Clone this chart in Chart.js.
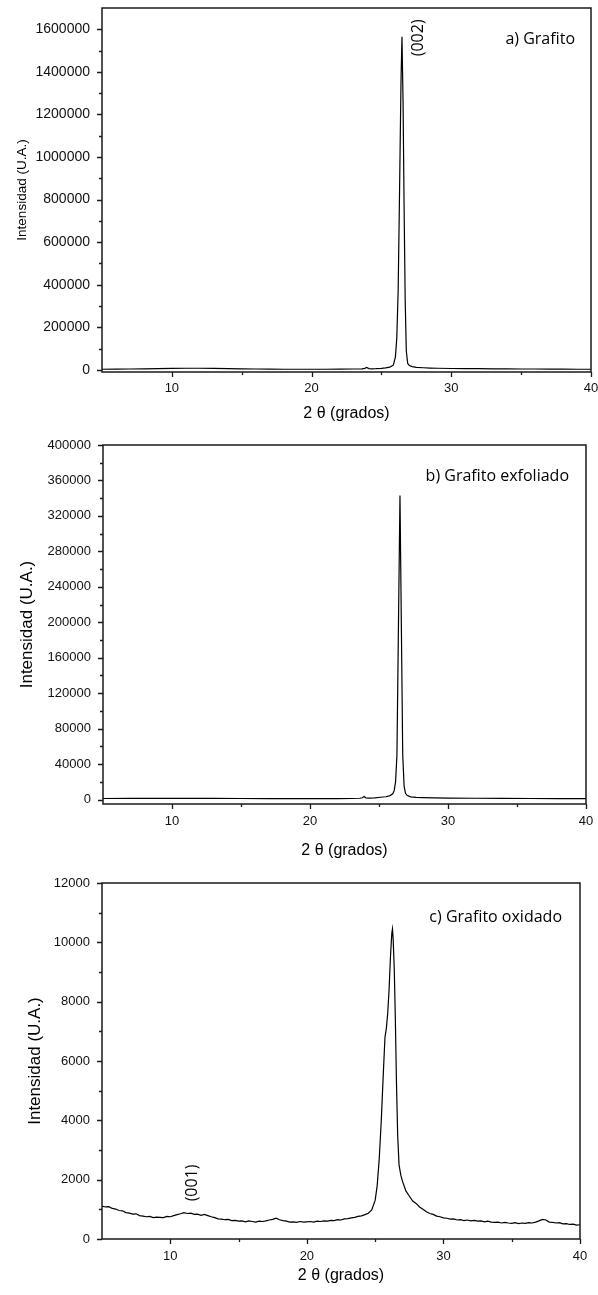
<!DOCTYPE html>
<html><head><meta charset="utf-8">
<script src="https://cdn.jsdelivr.net/npm/chart.js@4.4.1/dist/chart.umd.min.js"></script>
<style>
html,body{margin:0;padding:0;background:#fff;}
#wrap{position:relative;width:598px;height:1295px;overflow:hidden;}
canvas{position:absolute;left:0;}
</style></head><body>
<div id="wrap">
<canvas id="cA" width="598" height="430" style="top:0;width:598px;height:430px"></canvas>
<canvas id="cB" width="598" height="435" style="top:430px;width:598px;height:435px"></canvas>
<canvas id="cC" width="598" height="430" style="top:865px;width:598px;height:430px"></canvas>
</div>
<script>
// ---- shared axis ticks ----
const xTicks = [10, 20, 30, 40];
const xMinor = [15, 25, 35];

// ---- panel a) Grafito ----
const xA = [5,6,7,8,9,10,11,12,13,14,15,16,17,18,19,20,21,22,23,23.6,23.8,23.95,24.1,24.3,24.6,25,25.3,25.6,25.85,26.0,26.1,26.2,26.3,26.4,26.47,26.55,26.62,26.7,26.78,26.88,27.0,27.2,27.5,28,28.5,29,30,31,32,33,34,35,36,37,38,39,40];
const yA = [3000,3500,4000,5000,6000,7000,7500,7500,7000,6000,5000,4000,3500,3000,3000,3000,3000,3500,4000,5000,7000,11000,6000,5000,5500,7000,9000,13000,22000,60000,150000,380000,850000,1350000,1565000,1250000,780000,330000,90000,30000,20000,15000,12000,10000,8500,7500,6500,6000,5500,5000,4500,4000,4000,3500,3500,3000,3000];
const yTicksA = [0,200000,400000,600000,800000,1000000,1200000,1400000,1600000];
const yMinorA = [100000,300000,500000,700000,900000,1100000,1300000,1500000];

// ---- panel b) Grafito exfoliado ----
const xB = [5,7,9,11,13,15,17,19,21,22,23,23.6,23.8,23.93,24.05,24.3,24.7,25.1,25.5,25.8,26.0,26.1,26.2,26.3,26.52,26.72,26.82,26.92,27.05,27.3,27.7,28.2,29,30,32,34,36,38,40];
const yB = [1200,1300,1400,1400,1300,1200,1100,1000,1000,1100,1200,1500,2000,3500,1800,1600,2000,2600,3200,4500,6500,10000,20000,50000,343000,50000,15000,7000,4500,3000,2500,2200,1900,1700,1500,1300,1200,1100,1000];
const yTicksB = [0,40000,80000,120000,160000,200000,240000,280000,320000,360000,400000];
const yMinorB = [20000,60000,100000,140000,180000,220000,260000,300000,340000,380000];

// ---- panel c) Grafito oxidado ----
const xC = [5,5.25,5.5,5.75,6,6.25,6.5,6.75,7,7.25,7.5,7.75,8,8.25,8.5,8.75,9,9.25,9.5,9.75,10,10.25,10.5,10.75,11,11.25,11.5,11.75,12,12.25,12.5,12.75,13,13.25,13.5,13.75,14,14.25,14.5,14.75,15,15.25,15.5,15.75,16,16.25,16.5,16.75,17,17.25,17.5,17.75,18,18.25,18.5,18.75,19,19.25,19.5,19.75,20,20.25,20.5,20.75,21,21.25,21.5,21.75,22,22.25,22.5,22.75,23,23.25,23.5,23.75,24,24.25,24.5,24.75,25,25.15,25.3,25.45,25.6,25.72,25.82,25.92,26.02,26.12,26.22,26.27,26.32,26.4,26.48,26.56,26.65,26.75,26.88,27,27.25,27.5,27.75,28,28.25,28.5,28.75,29,29.25,29.5,29.75,30,30.25,30.5,30.75,31,31.25,31.5,31.75,32,32.25,32.5,32.75,33,33.25,33.5,33.75,34,34.25,34.5,34.75,35,35.25,35.5,35.75,36,36.25,36.5,36.75,37,37.25,37.5,37.75,38,38.25,38.5,38.75,39,39.25,39.5,39.75,40];
const yC = [1110,1080,1090,1030,1010,960,950,890,870,840,850,790,770,750,760,720,740,730,720,760,750,790,820,850,890,860,870,830,840,800,830,790,750,720,680,670,650,660,620,630,600,610,580,610,590,570,600,590,610,640,660,700,650,620,600,570,580,560,590,570,580,590,570,600,590,610,600,630,620,650,640,680,690,710,730,760,780,820,870,980,1300,1800,2700,4000,5600,6800,7100,7600,8400,9500,10300,10450,10100,9100,7400,5300,3500,2500,2150,1950,1620,1450,1280,1200,1080,1000,920,860,830,770,750,710,700,670,680,640,650,620,640,610,630,600,610,580,600,570,560,570,540,560,540,530,550,520,540,530,550,540,570,610,660,640,570,560,540,550,510,520,490,500,470,480];
const yTicksC = [0,2000,4000,6000,8000,10000,12000];
const yMinorC = [1000,3000,5000,7000,9000,11000];

const NUM_FONT = '"Liberation Sans", Arial, sans-serif';
const NOTE_FONT = '"Open Sans", "Noto Sans", sans-serif';

function zeroPad(s) { s.paddingLeft = 0; s.paddingRight = 0; s.paddingTop = 0; s.paddingBottom = 0; }

function framePlugin(cfg) {
  return {
    id: 'frame_' + cfg.id,
    afterDraw(chart) {
      const {ctx, chartArea: a, scales: {x, y}} = chart;
      ctx.save();
      ctx.strokeStyle = '#1a1a1a';
      ctx.lineWidth = 1.5;
      ctx.strokeRect(a.left, a.top, a.right - a.left, a.bottom - a.top);
      ctx.lineWidth = 1.3;
      ctx.beginPath();
      cfg.yMajor.forEach(v => { const p = Math.round(y.getPixelForValue(v)) + 0.5; ctx.moveTo(a.left - 5, p); ctx.lineTo(a.left, p); });
      cfg.yMinor.forEach(v => { const p = Math.round(y.getPixelForValue(v)) + 0.5; ctx.moveTo(a.left - 3, p); ctx.lineTo(a.left, p); });
      xTicks.forEach(v => { const p = Math.round(x.getPixelForValue(v)) + 0.5; ctx.moveTo(p, a.bottom); ctx.lineTo(p, a.bottom + 5); });
      xMinor.forEach(v => { const p = Math.round(x.getPixelForValue(v)) + 0.5; ctx.moveTo(p, a.bottom); ctx.lineTo(p, a.bottom + 3); });
      ctx.stroke();
      ctx.fillStyle = '#000';
      ctx.font = '16px ' + NOTE_FONT;
      ctx.textAlign = 'right';
      ctx.textBaseline = 'middle';
      ctx.fillText(cfg.corner, a.right - cfg.cornerDx, a.top + cfg.cornerDy);
      if (cfg.peak) {
        ctx.save();
        ctx.translate(x.getPixelForValue(cfg.peak.x), y.getPixelForValue(cfg.peak.y));
        ctx.rotate(-Math.PI / 2);
        ctx.textAlign = 'center';
        ctx.fillText(cfg.peak.text, 0, 0);
        ctx.restore();
      }
      ctx.restore();
    }
  };
}

function makeChart(cfg) {
  const pts = cfg.xs.map((xv, i) => ({x: xv, y: cfg.ys[i]}));
  return new Chart(document.getElementById(cfg.id), {
    type: 'scatter',
    data: { datasets: [{ data: pts, showLine: true, pointRadius: 0, borderColor: '#000', borderWidth: cfg.lw, tension: 0 }] },
    options: {
      responsive: false, animation: false, devicePixelRatio: 1,
      layout: { autoPadding: false, padding: { top: cfg.padTop, right: cfg.padRight, left: 0, bottom: 0 } },
      plugins: { legend: { display: false }, tooltip: { enabled: false } },
      scales: {
        x: {
          type: 'linear', min: 5, max: 40,
          grid: { display: false, drawTicks: false }, border: { display: false },
          afterBuildTicks: s => { s.ticks = xTicks.map(v => ({value: v})); },
          afterFit: s => { s.height = cfg.xH; zeroPad(s); },
          ticks: { color: '#111', font: { family: NUM_FONT, size: 13 }, padding: cfg.xPad, maxRotation: 0, callback: v => String(v) },
          title: { display: true, text: '2 θ (grados)', color: '#000', font: { family: NUM_FONT, size: 16 }, padding: { top: 0, bottom: cfg.xTitlePad } }
        },
        y: {
          type: 'linear', min: cfg.yMin, max: cfg.yMax,
          grid: { display: false, drawTicks: false }, border: { display: false },
          afterBuildTicks: s => { s.ticks = cfg.yMajor.map(v => ({value: v})); },
          afterFit: s => { s.width = cfg.yW; zeroPad(s); },
          ticks: { color: '#111', font: { family: NUM_FONT, size: cfg.yTickSize }, padding: 12, callback: v => String(v) },
          title: { display: true, text: 'Intensidad (U.A.)', color: '#000', font: { family: NUM_FONT, size: cfg.yTitleSize }, padding: { top: cfg.yTitlePad, bottom: 0 } }
        }
      }
    },
    plugins: [framePlugin(cfg)]
  });
}

makeChart({ id: 'cA', xs: xA, ys: yA, lw: 1.2, yMin: -10000, yMax: 1700000, yMajor: yTicksA, yMinor: yMinorA,
  padTop: 8, padRight: 7, xH: 58, xPad: 9, xTitlePad: 6.4, yW: 102, yTickSize: 14, yTitleSize: 13.5, yTitlePad: 14,
  corner: 'a) Grafito', cornerDx: 16, cornerDy: 31, peak: { text: '(002)', x: 27.62, y: 1560000 } });

makeChart({ id: 'cB', xs: xB, ys: yB, lw: 1.2, yMin: -5000, yMax: 400000, yMajor: yTicksB, yMinor: yMinorB,
  padTop: 15, padRight: 12, xH: 61, xPad: 10, xTitlePad: 4.4, yW: 103, yTickSize: 13, yTitleSize: 17, yTitlePad: 17,
  corner: 'b) Grafito exfoliado', cornerDx: 17, cornerDy: 31, peak: null });

makeChart({ id: 'cC', xs: xC, ys: yC, lw: 1.2, yMin: 0, yMax: 12000, yMajor: yTicksC, yMinor: yMinorC,
  padTop: 18, padRight: 18, xH: 56, xPad: 10, xTitlePad: 9.4, yW: 102, yTickSize: 13, yTitleSize: 17, yTitlePad: 25,
  corner: 'c) Grafito oxidado', cornerDx: 18, cornerDy: 34, peak: { text: '(001)', x: 11.63, y: 1890 } });
</script>
</body></html>
